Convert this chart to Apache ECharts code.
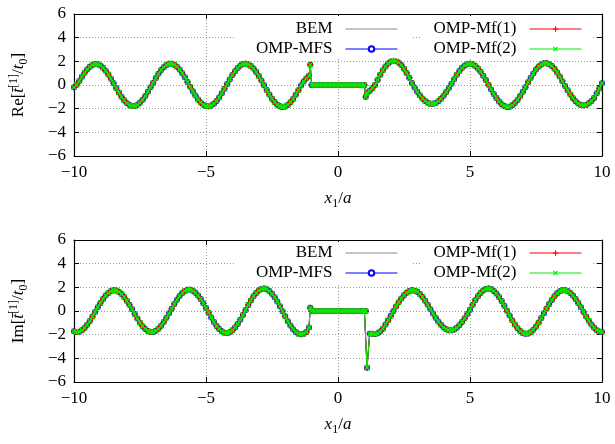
<!DOCTYPE html>
<html><head><meta charset="utf-8">
<script src="https://cdn.jsdelivr.net/npm/echarts@6/dist/echarts.min.js"></script>
<style>html,body{margin:0;padding:0;background:#fff}#c{width:615px;height:444px}</style>
</head><body><div id="c"></div>
<script>
// x1/a sample positions
const xValues = [
-10,-9.9,-9.8,-9.7,-9.6,-9.5,-9.4,-9.3,-9.2,-9.1,
-9,-8.9,-8.8,-8.7,-8.6,-8.5,-8.4,-8.3,-8.2,-8.1,
-8,-7.9,-7.8,-7.7,-7.6,-7.5,-7.4,-7.3,-7.2,-7.1,
-7,-6.9,-6.8,-6.7,-6.6,-6.5,-6.4,-6.3,-6.2,-6.1,
-6,-5.9,-5.8,-5.7,-5.6,-5.5,-5.4,-5.3,-5.2,-5.1,
-5,-4.9,-4.8,-4.7,-4.6,-4.5,-4.4,-4.3,-4.2,-4.1,
-4,-3.9,-3.8,-3.7,-3.6,-3.5,-3.4,-3.3,-3.2,-3.1,
-3,-2.9,-2.8,-2.7,-2.6,-2.5,-2.4,-2.3,-2.2,-2.1,
-2,-1.9,-1.8,-1.7,-1.6,-1.5,-1.4,-1.3,-1.2,-1.1,
-1.05,
-1,-0.9,-0.8,-0.7,-0.6,-0.5,-0.4,-0.3,-0.2,-0.1,0,0.1,0.2,0.3,0.4,0.5,0.6,0.7,0.8,0.9,1,
1.05,
1.1,1.2,1.3,1.4,1.5,1.6,1.7,1.8,1.9,2,
2.1,2.2,2.3,2.4,2.5,2.6,2.7,2.8,2.9,3,
3.1,3.2,3.3,3.4,3.5,3.6,3.7,3.8,3.9,4,
4.1,4.2,4.3,4.4,4.5,4.6,4.7,4.8,4.9,5,
5.1,5.2,5.3,5.4,5.5,5.6,5.7,5.8,5.9,6,
6.1,6.2,6.3,6.4,6.5,6.6,6.7,6.8,6.9,7,
7.1,7.2,7.3,7.4,7.5,7.6,7.7,7.8,7.9,8,
8.1,8.2,8.3,8.4,8.5,8.6,8.7,8.8,8.9,9,
9.1,9.2,9.3,9.4,9.5,9.6,9.7,9.8,9.9,10
];
// Re[t/t0]
const reValues = [
-0.20,0.02,0.33,0.69,1.03,1.32,1.55,1.70,1.77,1.75,
1.64,1.46,1.20,0.88,0.52,0.14,-0.25,-0.64,-0.99,-1.29,
-1.53,-1.69,-1.77,-1.77,-1.67,-1.50,-1.25,-0.94,-0.58,-0.20,
0.20,0.59,0.95,1.26,1.51,1.69,1.79,1.79,1.71,1.55,
1.31,1.00,0.65,0.26,-0.14,-0.53,-0.89,-1.22,-1.48,-1.67,
-1.78,-1.80,-1.73,-1.58,-1.35,-1.05,-0.70,-0.32,0.08,0.47,
0.84,1.17,1.44,1.65,1.77,1.80,1.74,1.60,1.39,1.10,
0.76,0.38,-0.02,-0.42,-0.81,-1.16,-1.44,-1.67,-1.80,-1.85,
-1.81,-1.68,-1.46,-1.18,-0.83,-0.45,-0.04,0.30,0.55,0.78,
1.72,
0,0,0,0,0,0,0,0,0,0,0,0,0,0,0,0,0,0,0,0,0,
-1.00,
-0.65,-0.50,-0.28,0.00,0.43,0.86,1.24,1.57,1.82,1.98,
2.05,2.02,1.89,1.68,1.38,1.02,0.61,0.17,-0.22,-0.56,
-0.87,-1.14,-1.36,-1.51,-1.59,-1.59,-1.52,-1.38,-1.17,-0.90,
-0.59,-0.25,0.11,0.49,0.86,1.18,1.45,1.65,1.76,1.80,
1.75,1.61,1.40,1.13,0.79,0.42,0.03,-0.37,-0.75,-1.10,
-1.40,-1.63,-1.78,-1.85,-1.83,-1.72,-1.53,-1.27,-0.94,-0.57,
-0.18,0.23,0.62,0.98,1.30,1.56,1.74,1.83,1.84,1.76,
1.60,1.37,1.06,0.71,0.32,-0.08,-0.45,-0.80,-1.11,-1.37,
-1.56,-1.68,-1.72,-1.68,-1.55,-1.36,-1.09,-0.70,-0.30,0.15
];
// Im[t/t0]
const imValues = [
-1.72,-1.78,-1.75,-1.63,-1.43,-1.16,-0.84,-0.47,-0.08,0.31,
0.68,1.02,1.31,1.53,1.68,1.75,1.73,1.62,1.44,1.19,
0.87,0.52,0.14,-0.25,-0.64,-0.99,-1.29,-1.53,-1.69,-1.77,
-1.77,-1.67,-1.50,-1.25,-0.94,-0.58,-0.20,0.20,0.59,0.95,
1.27,1.52,1.70,1.80,1.80,1.72,1.55,1.31,1.01,0.65,
0.26,-0.14,-0.55,-0.92,-1.26,-1.53,-1.72,-1.84,-1.86,-1.79,
-1.63,-1.39,-1.09,-0.73,-0.33,0.08,0.50,0.89,1.24,1.52,
1.74,1.86,1.90,1.84,1.69,1.46,1.16,0.80,0.40,-0.02,
-0.45,-0.86,-1.23,-1.54,-1.77,-1.92,-1.97,-1.92,-1.78,-1.40,
0.28,
0,0,0,0,0,0,0,0,0,0,0,0,0,0,0,0,0,0,0,0,0,
0,
-4.80,-1.92,-1.92,-1.95,-1.89,-1.74,-1.50,-1.14,-0.79,-0.41,
-0.01,0.38,0.73,1.06,1.34,1.55,1.69,1.75,1.72,1.62,
1.43,1.18,0.87,0.52,0.14,-0.22,-0.57,-0.89,-1.17,-1.39,
-1.55,-1.63,-1.63,-1.56,-1.41,-1.20,-0.92,-0.61,-0.26,0.11,
0.52,0.91,1.25,1.53,1.74,1.86,1.90,1.85,1.70,1.48,
1.19,0.84,0.45,0.03,-0.38,-0.79,-1.15,-1.46,-1.70,-1.86,
-1.93,-1.90,-1.79,-1.59,-1.32,-0.98,-0.60,-0.19,0.22,0.59,
0.94,1.24,1.49,1.66,1.75,1.76,1.69,1.53,1.31,1.02,
0.68,0.31,-0.08,-0.46,-0.83,-1.15,-1.42,-1.62,-1.74,-1.78
];
const seriesNames = ['BEM', 'OMP-MFS', 'OMP-Mf(1)', 'OMP-Mf(2)'];
const xTickValues = [-10, -5, 0, 5, 10];
const yTickValues = [-6, -4, -2, 0, 2, 4, 6];

const FONT = 'Liberation Serif';
const pairs = (ys) => xValues.map((x, i) => [x, ys[i]]);
const fmt = (v) => (v < 0 ? '\u2212' + Math.abs(v) : String(v));
const PLUS = 'path://M4,0H6V4H10V6H6V10H4V6H0V4H4Z';

const styles = [
  { color: '#8c8c8c', symbol: 'none', symbolSize: 0, rotate: 0 },
  { color: '#0000ff', symbol: 'emptyCircle', symbolSize: 4, rotate: 0 },
  { color: '#ff0000', symbol: PLUS, symbolSize: 6, rotate: 0 },
  { color: '#00ee00', symbol: PLUS, symbolSize: 7, rotate: 45 }
];

const grids = [
  { left: 69, right: 13, top: 14, height: 142 },
  { left: 69, right: 13, top: 240, height: 142 }
];

const xAxes = [], yAxes = [];
const richName = {
  i: { fontFamily: FONT, fontSize: 17, fontStyle: 'italic', color: '#000' },
  n: { fontFamily: FONT, fontSize: 17, color: '#000' },
  sup: { fontFamily: FONT, fontSize: 12, verticalAlign: 'top', color: '#000' },
  sub: { fontFamily: FONT, fontSize: 12, verticalAlign: 'bottom', color: '#000' }
};
const yNames = ['{n|Re[}{i|t\u0304}{sup|[1]}{n|/}{i|t}{sub|0}{n|]}', '{n|Im[}{i|t\u0304}{sup|[1]}{n|/}{i|t}{sub|0}{n|]}'];
grids.forEach((g, gi) => {
  const base = {
    gridIndex: gi, type: 'value', min: xTickValues[0], max: xTickValues[xTickValues.length - 1], interval: 5,
    axisLine: { show: true, onZero: false, lineStyle: { color: '#000', width: 1.2 } },
    axisTick: { show: true, inside: true, length: 5, lineStyle: { color: '#000' } }
  };
  xAxes.push(Object.assign({}, base, {
    position: 'bottom',
    axisLabel: { formatter: fmt, fontFamily: FONT, fontSize: 17, color: '#000', margin: 8 },
    splitLine: { show: true, lineStyle: { color: '#999', type: [1, 2], width: 1 } },
    name: '{i|x}{sub|1}{n|/}{i|a}', nameLocation: 'middle', nameGap: 32,
    nameTextStyle: { rich: richName, lineHeight: 22 }
  }));
  xAxes.push(Object.assign({}, base, {
    position: 'top', axisLabel: { show: false }, splitLine: { show: false }
  }));
  const ybase = {
    gridIndex: gi, type: 'value', min: yTickValues[0], max: yTickValues[yTickValues.length - 1], interval: 2,
    axisLine: { show: true, onZero: false, lineStyle: { color: '#000', width: 1.2 } },
    axisTick: { show: true, inside: true, length: 5, lineStyle: { color: '#000' } }
  };
  yAxes.push(Object.assign({}, ybase, {
    position: 'left',
    axisLabel: { formatter: fmt, fontFamily: FONT, fontSize: 17, color: '#000', margin: 8 },
    splitLine: { show: true, lineStyle: { color: '#999', type: [1, 2], width: 1 } },
    name: yNames[gi], nameLocation: 'middle', nameGap: 44, nameRotate: 90,
    nameTextStyle: { rich: richName, lineHeight: 22 }
  }));
  yAxes.push(Object.assign({}, ybase, {
    position: 'right', axisLabel: { show: false }, splitLine: { show: false }
  }));
});

const series = [];
[reValues, imValues].forEach((vals, gi) => {
  seriesNames.forEach((name, si) => {
    const s = styles[si];
    series.push({
      name: name, type: 'line', xAxisIndex: gi * 2, yAxisIndex: gi * 2,
      data: pairs(vals),
      symbol: s.symbol, symbolSize: s.symbolSize, symbolRotate: s.rotate,
      showSymbol: s.symbol !== 'none',
      lineStyle: { color: s.color, width: 1 },
      itemStyle: { color: s.color, borderColor: s.color, borderWidth: s.symbol === 'emptyCircle' ? 1 : 0 },
      emphasis: { disabled: true },
      z: 2 + si,
      animation: false
    });
  });
});

const legendCommon = {
  orient: 'vertical', align: 'right', itemWidth: 52, itemHeight: 7, itemGap: 0,
  backgroundColor: '#fff', selectedMode: false,
  lineStyle: { width: 1 },
  textStyle: { fontFamily: FONT, fontSize: 17, lineHeight: 20, color: '#000', padding: [0, 8, 0, 0] }
};
const legends = [];
[16, 242].forEach((top, gi) => {
  const pt = gi === 0 ? 3 : 1;
  legends.push(Object.assign({}, legendCommon, {
    right: 204, top: top, padding: [pt, 13, 0, 22],
    data: [{ name: seriesNames[0], itemStyle: { opacity: 0 } }, seriesNames[1]]
  }));
  legends.push(Object.assign({}, legendCommon, {
    right: 24, top: top, padding: [pt, 9, 0, 13],
    data: [seriesNames[2], seriesNames[3]]
  }));
});

const chart = echarts.init(document.getElementById('c'), null, { renderer: 'canvas' });
chart.setOption({
  animation: false,
  backgroundColor: '#fff',
  grid: grids,
  xAxis: xAxes,
  yAxis: yAxes,
  legend: legends,
  series: series
});
</script>
</body></html>
